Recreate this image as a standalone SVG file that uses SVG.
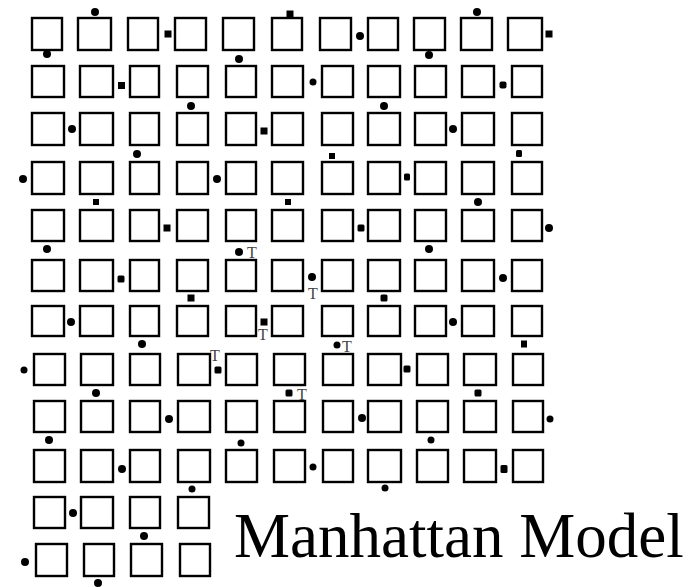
<svg xmlns="http://www.w3.org/2000/svg" width="693" height="587" viewBox="0 0 693 587">
<style>
.n{fill:none;stroke:#000;stroke-width:2.4}
.d{fill:#000}
.t{font-family:"Liberation Serif","Times New Roman",serif;font-size:16px;fill:#444;text-anchor:middle}
.title{font-family:"Liberation Serif","Times New Roman",serif;font-size:63px;fill:#000}
</style>
<rect width="693" height="587" fill="#fff"/>
<g id="nodes">
<g id="r1c1"><rect class="n" x="32" y="18" width="30" height="32"/></g>
<g id="r1c2"><rect class="n" x="78" y="18" width="33" height="32"/></g>
<g id="r1c3"><rect class="n" x="128" y="18" width="30" height="32"/></g>
<g id="r1c4"><rect class="n" x="175" y="18" width="31" height="32"/></g>
<g id="r1c5"><rect class="n" x="223" y="18" width="31" height="32"/></g>
<g id="r1c6"><rect class="n" x="272" y="18" width="30" height="32"/></g>
<g id="r1c7"><rect class="n" x="320" y="18" width="31" height="32"/></g>
<g id="r1c8"><rect class="n" x="368" y="18" width="30" height="32"/></g>
<g id="r1c9"><rect class="n" x="414" y="18" width="31" height="32"/></g>
<g id="r1c10"><rect class="n" x="461" y="18" width="31" height="32"/></g>
<g id="r1c11"><rect class="n" x="508" y="18" width="34" height="32"/></g>

<g id="r2c1"><rect class="n" x="32" y="66" width="32" height="31"/></g>
<g id="r2c2"><rect class="n" x="80" y="66" width="33" height="31"/></g>
<g id="r2c3"><rect class="n" x="130" y="66" width="29" height="31"/></g>
<g id="r2c4"><rect class="n" x="177" y="66" width="31" height="31"/></g>
<g id="r2c5"><rect class="n" x="226" y="66" width="30" height="31"/></g>
<g id="r2c6"><rect class="n" x="272" y="66" width="31" height="31"/></g>
<g id="r2c7"><rect class="n" x="322" y="66" width="31" height="31"/></g>
<g id="r2c8"><rect class="n" x="368" y="66" width="32" height="31"/></g>
<g id="r2c9"><rect class="n" x="415" y="66" width="31" height="31"/></g>
<g id="r2c10"><rect class="n" x="462" y="66" width="32" height="31"/></g>
<g id="r2c11"><rect class="n" x="512" y="66" width="30" height="31"/></g>

<g id="r3c1"><rect class="n" x="32" y="113" width="32" height="32"/></g>
<g id="r3c2"><rect class="n" x="80" y="113" width="33" height="32"/></g>
<g id="r3c3"><rect class="n" x="130" y="113" width="29" height="32"/></g>
<g id="r3c4"><rect class="n" x="177" y="113" width="31" height="32"/></g>
<g id="r3c5"><rect class="n" x="226" y="113" width="30" height="32"/></g>
<g id="r3c6"><rect class="n" x="272" y="113" width="31" height="32"/></g>
<g id="r3c7"><rect class="n" x="322" y="113" width="31" height="32"/></g>
<g id="r3c8"><rect class="n" x="368" y="113" width="32" height="32"/></g>
<g id="r3c9"><rect class="n" x="415" y="113" width="31" height="32"/></g>
<g id="r3c10"><rect class="n" x="462" y="113" width="32" height="32"/></g>
<g id="r3c11"><rect class="n" x="512" y="113" width="30" height="32"/></g>

<g id="r4c1"><rect class="n" x="32" y="162" width="32" height="32"/></g>
<g id="r4c2"><rect class="n" x="80" y="162" width="33" height="32"/></g>
<g id="r4c3"><rect class="n" x="130" y="162" width="29" height="32"/></g>
<g id="r4c4"><rect class="n" x="177" y="162" width="31" height="32"/></g>
<g id="r4c5"><rect class="n" x="226" y="162" width="30" height="32"/></g>
<g id="r4c6"><rect class="n" x="272" y="162" width="31" height="32"/></g>
<g id="r4c7"><rect class="n" x="322" y="162" width="31" height="32"/></g>
<g id="r4c8"><rect class="n" x="368" y="162" width="32" height="32"/></g>
<g id="r4c9"><rect class="n" x="415" y="162" width="31" height="32"/></g>
<g id="r4c10"><rect class="n" x="462" y="162" width="32" height="32"/></g>
<g id="r4c11"><rect class="n" x="512" y="162" width="30" height="32"/></g>

<g id="r5c1"><rect class="n" x="32" y="210" width="32" height="31"/></g>
<g id="r5c2"><rect class="n" x="80" y="210" width="33" height="31"/></g>
<g id="r5c3"><rect class="n" x="130" y="210" width="29" height="31"/></g>
<g id="r5c4"><rect class="n" x="177" y="210" width="31" height="31"/></g>
<g id="r5c5"><rect class="n" x="226" y="210" width="30" height="31"/></g>
<g id="r5c6"><rect class="n" x="272" y="210" width="31" height="31"/></g>
<g id="r5c7"><rect class="n" x="322" y="210" width="31" height="31"/></g>
<g id="r5c8"><rect class="n" x="368" y="210" width="32" height="31"/></g>
<g id="r5c9"><rect class="n" x="415" y="210" width="31" height="31"/></g>
<g id="r5c10"><rect class="n" x="462" y="210" width="32" height="31"/></g>
<g id="r5c11"><rect class="n" x="512" y="210" width="30" height="31"/></g>

<g id="r6c1"><rect class="n" x="32" y="260" width="32" height="31"/></g>
<g id="r6c2"><rect class="n" x="80" y="260" width="33" height="31"/></g>
<g id="r6c3"><rect class="n" x="130" y="260" width="29" height="31"/></g>
<g id="r6c4"><rect class="n" x="177" y="260" width="31" height="31"/></g>
<g id="r6c5"><rect class="n" x="226" y="260" width="30" height="31"/></g>
<g id="r6c6"><rect class="n" x="272" y="260" width="31" height="31"/></g>
<g id="r6c7"><rect class="n" x="322" y="260" width="31" height="31"/></g>
<g id="r6c8"><rect class="n" x="368" y="260" width="32" height="31"/></g>
<g id="r6c9"><rect class="n" x="415" y="260" width="31" height="31"/></g>
<g id="r6c10"><rect class="n" x="462" y="260" width="32" height="31"/></g>
<g id="r6c11"><rect class="n" x="512" y="260" width="30" height="31"/></g>

<g id="r7c1"><rect class="n" x="32" y="306" width="32" height="30"/></g>
<g id="r7c2"><rect class="n" x="80" y="306" width="33" height="30"/></g>
<g id="r7c3"><rect class="n" x="130" y="306" width="29" height="30"/></g>
<g id="r7c4"><rect class="n" x="177" y="306" width="31" height="30"/></g>
<g id="r7c5"><rect class="n" x="226" y="306" width="30" height="30"/></g>
<g id="r7c6"><rect class="n" x="272" y="306" width="31" height="30"/></g>
<g id="r7c7"><rect class="n" x="322" y="306" width="31" height="30"/></g>
<g id="r7c8"><rect class="n" x="368" y="306" width="32" height="30"/></g>
<g id="r7c9"><rect class="n" x="415" y="306" width="31" height="30"/></g>
<g id="r7c10"><rect class="n" x="462" y="306" width="32" height="30"/></g>
<g id="r7c11"><rect class="n" x="512" y="306" width="30" height="30"/></g>

<g id="r8c1"><rect class="n" x="34" y="354" width="31" height="31"/></g>
<g id="r8c2"><rect class="n" x="81" y="354" width="32" height="31"/></g>
<g id="r8c3"><rect class="n" x="130" y="354" width="30" height="31"/></g>
<g id="r8c4"><rect class="n" x="178" y="354" width="32" height="31"/></g>
<g id="r8c5"><rect class="n" x="226" y="354" width="31" height="31"/></g>
<g id="r8c6"><rect class="n" x="274" y="354" width="31" height="31"/></g>
<g id="r8c7"><rect class="n" x="323" y="354" width="30" height="31"/></g>
<g id="r8c8"><rect class="n" x="368" y="354" width="33" height="31"/></g>
<g id="r8c9"><rect class="n" x="417" y="354" width="31" height="31"/></g>
<g id="r8c10"><rect class="n" x="464" y="354" width="32" height="31"/></g>
<g id="r8c11"><rect class="n" x="513" y="354" width="30" height="31"/></g>

<g id="r9c1"><rect class="n" x="34" y="401" width="31" height="31"/></g>
<g id="r9c2"><rect class="n" x="81" y="401" width="32" height="31"/></g>
<g id="r9c3"><rect class="n" x="130" y="401" width="30" height="31"/></g>
<g id="r9c4"><rect class="n" x="178" y="401" width="32" height="31"/></g>
<g id="r9c5"><rect class="n" x="226" y="401" width="31" height="31"/></g>
<g id="r9c6"><rect class="n" x="274" y="401" width="31" height="31"/></g>
<g id="r9c7"><rect class="n" x="323" y="401" width="30" height="31"/></g>
<g id="r9c8"><rect class="n" x="368" y="401" width="33" height="31"/></g>
<g id="r9c9"><rect class="n" x="417" y="401" width="31" height="31"/></g>
<g id="r9c10"><rect class="n" x="464" y="401" width="32" height="31"/></g>
<g id="r9c11"><rect class="n" x="513" y="401" width="30" height="31"/></g>

<g id="r10c1"><rect class="n" x="34" y="450" width="31" height="32"/></g>
<g id="r10c2"><rect class="n" x="81" y="450" width="32" height="32"/></g>
<g id="r10c3"><rect class="n" x="130" y="450" width="30" height="32"/></g>
<g id="r10c4"><rect class="n" x="178" y="450" width="32" height="32"/></g>
<g id="r10c5"><rect class="n" x="226" y="450" width="31" height="32"/></g>
<g id="r10c6"><rect class="n" x="274" y="450" width="31" height="32"/></g>
<g id="r10c7"><rect class="n" x="323" y="450" width="30" height="32"/></g>
<g id="r10c8"><rect class="n" x="368" y="450" width="33" height="32"/></g>
<g id="r10c9"><rect class="n" x="417" y="450" width="31" height="32"/></g>
<g id="r10c10"><rect class="n" x="464" y="450" width="32" height="32"/></g>
<g id="r10c11"><rect class="n" x="513" y="450" width="30" height="32"/></g>

<g id="r11c1"><rect class="n" x="34" y="497" width="31" height="31"/></g>
<g id="r11c2"><rect class="n" x="81" y="497" width="32" height="31"/></g>
<g id="r11c3"><rect class="n" x="130" y="497" width="30" height="31"/></g>
<g id="r11c4"><rect class="n" x="178" y="497" width="31" height="31"/></g>

<g id="r12c1"><rect class="n" x="36" y="544" width="31" height="32"/></g>
<g id="r12c2"><rect class="n" x="84" y="544" width="30" height="32"/></g>
<g id="r12c3"><rect class="n" x="131" y="544" width="31" height="32"/></g>
<g id="r12c4"><rect class="n" x="180" y="544" width="30" height="32"/></g>
</g>

<g id="connectors"></g>

<g id="dots" class="d">
<circle cx="95" cy="12" r="4"/>
<rect x="164.5" y="30.5" width="7" height="7"/>
<circle cx="47" cy="54" r="4"/>
<circle cx="239" cy="59" r="4"/>
<rect x="118" y="82" width="7" height="7"/>
<circle cx="191" cy="106" r="4"/>
<circle cx="72" cy="129" r="4"/>
<rect x="260.5" y="127.5" width="7" height="7"/>
<circle cx="137" cy="154" r="4"/>
<circle cx="23" cy="179" r="4"/>
<circle cx="217" cy="179" r="4"/>
<rect x="93" y="199" width="6" height="6"/>
<rect x="286.5" y="10.5" width="7" height="7"/>
<circle cx="477" cy="12" r="4"/>
<circle cx="360" cy="36" r="4"/>
<rect x="545.5" y="30.5" width="7" height="7"/>
<circle cx="429" cy="55" r="4"/>
<circle cx="313" cy="82" r="3.5"/>
<rect x="499.5" y="81.5" width="7" height="7" rx="2"/>
<circle cx="384" cy="106" r="4"/>
<circle cx="453" cy="129" r="4"/>
<rect x="329" y="153" width="6" height="6"/>
<rect x="516" y="150" width="6" height="7" rx="1.5"/>
<rect x="404" y="173.5" width="6" height="7" rx="1.5"/>
<rect x="285" y="199" width="6" height="6"/>
<circle cx="478" cy="202" r="4"/>
<rect x="163.5" y="224.5" width="7" height="7"/>
<circle cx="47" cy="249" r="4"/>
<circle cx="239" cy="252" r="4"/>
<rect x="117.5" y="275.5" width="7" height="7" rx="1.5"/>
<rect x="187.5" y="294.5" width="7" height="7"/>
<circle cx="71" cy="322" r="4"/>
<rect x="260.5" y="318.5" width="7" height="7"/>
<circle cx="142" cy="344" r="4"/>
<circle cx="24" cy="370" r="3.5"/>
<rect x="214.5" y="366.5" width="7" height="7" rx="1.5"/>
<rect x="357.5" y="224.5" width="7" height="7" rx="1.5"/>
<circle cx="549" cy="228" r="4"/>
<circle cx="429" cy="249" r="4"/>
<circle cx="312" cy="277" r="4"/>
<circle cx="503" cy="278" r="4"/>
<rect x="380.5" y="294.5" width="7" height="7" rx="1.5"/>
<circle cx="453" cy="322" r="4"/>
<circle cx="337" cy="345" r="3.5"/>
<rect x="521" y="340.5" width="6" height="7"/>
<rect x="403.5" y="365.5" width="7" height="7" rx="1.5"/>
<circle cx="96" cy="393" r="4"/>
<rect x="285.5" y="389.5" width="7" height="7" rx="1.5"/>
<rect x="474.5" y="389.5" width="7" height="7" rx="1.5"/>
<circle cx="169" cy="419" r="4"/>
<circle cx="49" cy="440" r="4"/>
<circle cx="241" cy="443" r="3.5"/>
<circle cx="122" cy="469" r="4"/>
<circle cx="192" cy="489" r="3.5"/>
<circle cx="73" cy="513" r="4"/>
<circle cx="144" cy="536" r="4"/>
<circle cx="25" cy="562" r="4"/>
<circle cx="98" cy="583" r="4"/>
<circle cx="362" cy="418" r="4"/>
<circle cx="550" cy="419" r="3.5"/>
<circle cx="431" cy="440" r="3.5"/>
<circle cx="313" cy="467" r="3.5"/>
<rect x="500.5" y="465" width="7" height="8" rx="1.5"/>
<circle cx="385" cy="488" r="3.5"/>
</g>

<g id="labels">
<text class="t" x="252" y="258">T</text>
<text class="t" x="313" y="299">T</text>
<text class="t" x="263" y="340">T</text>
<text class="t" x="347" y="352">T</text>
<text class="t" x="215" y="361">T</text>
<text class="t" x="302" y="400">T</text>
<text class="title" x="234" y="557">Manhattan Model</text>
</g>
</svg>
